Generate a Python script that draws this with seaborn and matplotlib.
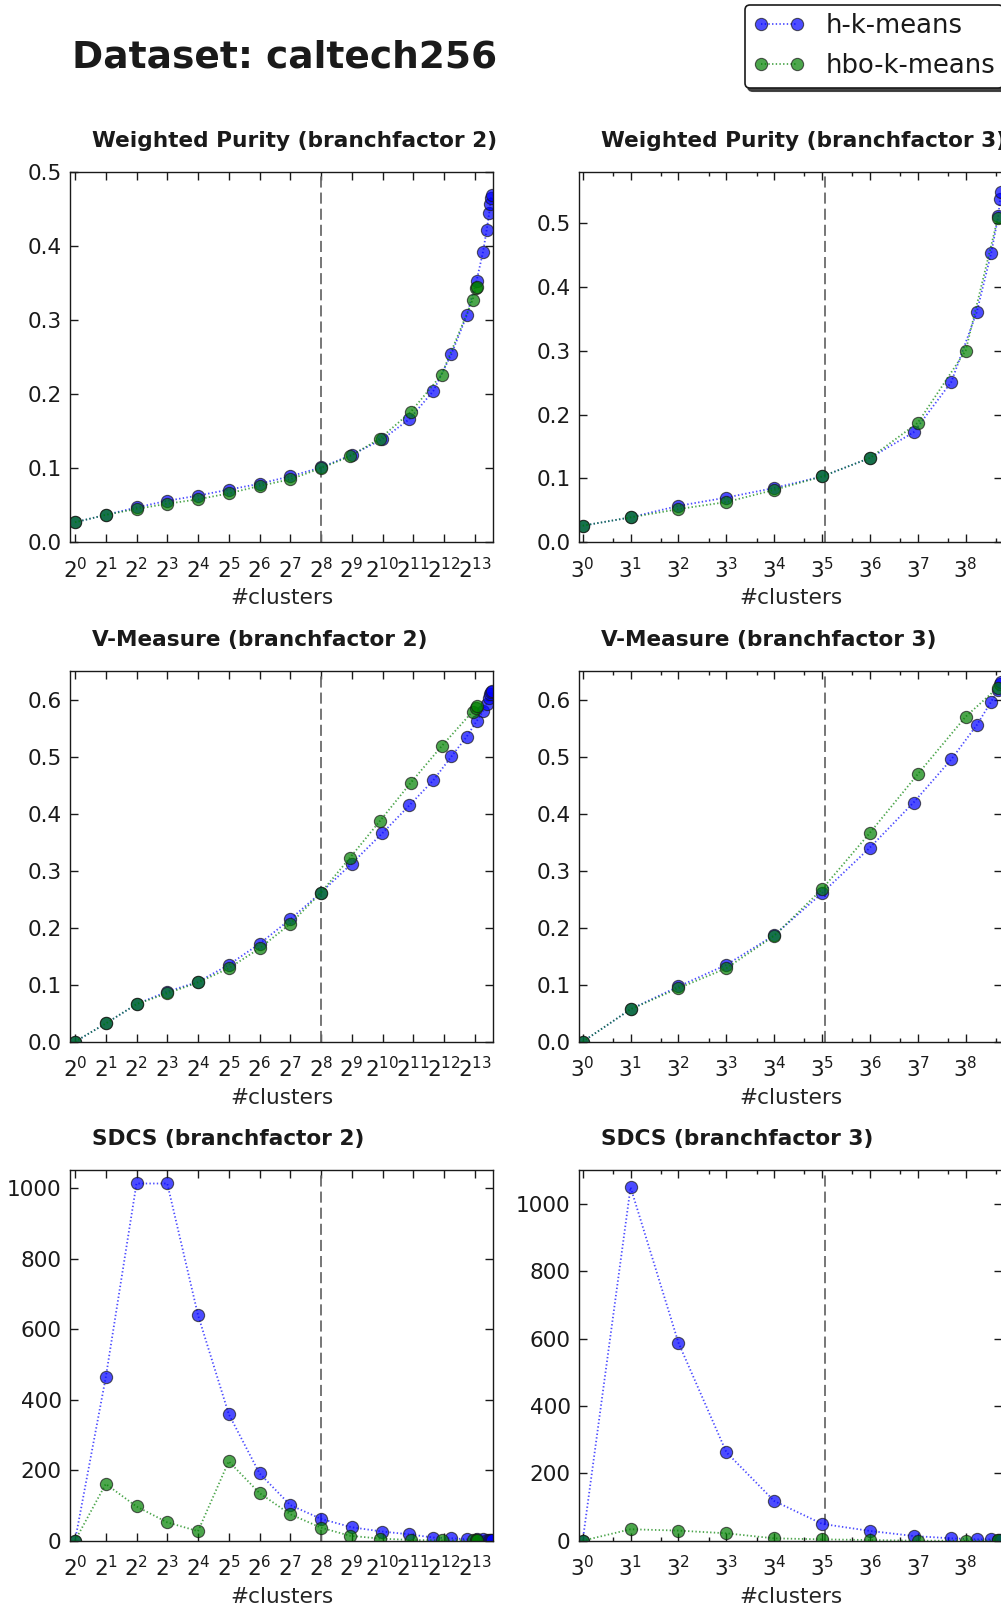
import matplotlib
matplotlib.use("Agg")
import matplotlib.pyplot as plt
from matplotlib.ticker import (LogLocator, NullLocator, MultipleLocator,
                               FormatStrFormatter)
import seaborn as sns

# ---------------------------------------------------------------- data
methods = ["h-k-means", "hbo-k-means"]
n_classes = 257

# number of clusters at each level, branch factor 2
bf2_hk_clusters = [1, 2, 4, 8, 16, 32, 64, 128, 256, 512, 1017, 1872, 3214,
                   4837, 6840, 8540, 9878, 10735, 11346, 11585, 11829, 11993]
bf2_hbo_clusters = [1, 2, 4, 8, 16, 32, 64, 128, 256, 491, 969, 1938, 3875,
                    7804, 8422, 8540]

# number of clusters at each level, branch factor 3
bf3_hk_clusters = [1, 3, 9, 27, 81, 243, 729, 1981, 4719, 8446, 11750, 13848,
                   14471, 14793]
bf3_hbo_clusters = [1, 3, 9, 27, 81, 243, 729, 2187, 6561, 13696]

# weighted purity
wp_bf2_hk = [0.027, 0.037, 0.047, 0.056, 0.063, 0.071, 0.079, 0.089, 0.101,
             0.118, 0.139, 0.166, 0.204, 0.254, 0.306, 0.353, 0.392, 0.422,
             0.444, 0.456, 0.465, 0.469]
wp_bf2_hbo = [0.027, 0.037, 0.045, 0.052, 0.058, 0.066, 0.076, 0.085, 0.100,
              0.116, 0.140, 0.176, 0.226, 0.327, 0.343, 0.345]
wp_bf3_hk = [0.026, 0.039, 0.057, 0.070, 0.085, 0.103, 0.132, 0.172, 0.251,
             0.360, 0.452, 0.510, 0.538, 0.549]
wp_bf3_hbo = [0.026, 0.039, 0.052, 0.063, 0.082, 0.103, 0.132, 0.187, 0.300,
              0.507]

# V-measure
vm_bf2_hk = [0.0, 0.032, 0.066, 0.088, 0.105, 0.135, 0.172, 0.215, 0.262,
             0.313, 0.366, 0.415, 0.459, 0.501, 0.536, 0.563, 0.581, 0.594,
             0.603, 0.610, 0.614, 0.616]
vm_bf2_hbo = [0.0, 0.032, 0.066, 0.085, 0.104, 0.129, 0.164, 0.207, 0.262,
              0.323, 0.388, 0.455, 0.519, 0.580, 0.587, 0.589]
vm_bf3_hk = [0.0, 0.057, 0.097, 0.135, 0.187, 0.261, 0.341, 0.420, 0.496,
             0.556, 0.597, 0.618, 0.629, 0.632]
vm_bf3_hbo = [0.0, 0.057, 0.094, 0.129, 0.186, 0.268, 0.367, 0.470, 0.571,
              0.622]

# SDCS
sdcs_bf2_hk = [0, 463, 1013, 1013, 640, 359, 191, 101, 62, 38, 26, 18, 9, 7,
               4, 4, 4, 3, 3, 2, 2, 2]
sdcs_bf2_hbo = [0, 161, 97, 52, 27, 225, 135, 75, 37, 14, 6, 2, 1, 1, 1, 1]
sdcs_bf3_hk = [0, 1050, 588, 263, 118, 50, 29, 14, 7, 4, 4, 2, 2, 2]
sdcs_bf3_hbo = [0, 34, 30, 22, 7, 4, 2, 0, 0, 1]

metric_names = ["Weighted Purity", "V-Measure", "SDCS"]
ylims = {("Weighted Purity", 2): 0.5, ("Weighted Purity", 3): 0.58,
         ("V-Measure", 2): 0.651, ("V-Measure", 3): 0.651,
         ("SDCS", 2): 1051, ("SDCS", 3): 1101}
xlims = {2: (0.8933, 12442), 3: (0.9186, 15200)}

series = {
    ("Weighted Purity", 2): (wp_bf2_hk, wp_bf2_hbo),
    ("Weighted Purity", 3): (wp_bf3_hk, wp_bf3_hbo),
    ("V-Measure", 2): (vm_bf2_hk, vm_bf2_hbo),
    ("V-Measure", 3): (vm_bf3_hk, vm_bf3_hbo),
    ("SDCS", 2): (sdcs_bf2_hk, sdcs_bf2_hbo),
    ("SDCS", 3): (sdcs_bf3_hk, sdcs_bf3_hbo),
}
clusters = {2: (bf2_hk_clusters, bf2_hbo_clusters),
            3: (bf3_hk_clusters, bf3_hbo_clusters)}
colors = {"h-k-means": "#0000ff", "hbo-k-means": "#008000"}

# ---------------------------------------------------------------- style
sns.set_theme(style="white")
plt.rcParams["font.family"] = ["DejaVu Sans"]
plt.rcParams.update({
    "axes.edgecolor": "k",
    "axes.linewidth": 1.0,
    "text.color": "k",
    "xtick.color": "k",
    "ytick.color": "k",
    "lines.scale_dashes": False,
})

W, H = 1001, 1609
fig = plt.figure(figsize=(W / 100, H / 100), dpi=100)

ax_w, ax_h = 423.3, 370.6
col_left = {2: 70.0, 3: 579.0}
row_bottom = [542.3, 1041.7, 1540.7]
FS = 15.6

for r, metric in enumerate(metric_names):
    for bf in (2, 3):
        rect = [col_left[bf] / W, 1 - row_bottom[r] / H, ax_w / W, ax_h / H]
        ax = fig.add_axes(rect)
        xs_hk, xs_hbo = clusters[bf]
        ys_hk, ys_hbo = series[(metric, bf)]
        for xs, ys, name in ((xs_hk, ys_hk, methods[0]),
                             (xs_hbo, ys_hbo, methods[1])):
            sns.lineplot(x=xs, y=ys, ax=ax, color=colors[name], label=name,
                         marker="o", linestyle=":", linewidth=1.3,
                         markersize=8.8, markeredgecolor="k",
                         markeredgewidth=0.8, alpha=0.7, estimator=None,
                         sort=False, errorbar=None, legend=False)
        ax.axvline(n_classes, color="0.42", linestyle="--", linewidth=1.3,
                   dashes=(8, 3.6), zorder=1)

        ax.set_xscale("log", base=bf)
        ax.xaxis.set_major_locator(LogLocator(base=bf, numticks=40))
        if bf == 3:
            ax.xaxis.set_minor_locator(LogLocator(base=bf, subs=[2.0],
                                                  numticks=40))
        else:
            ax.xaxis.set_minor_locator(NullLocator())
        ax.set_xlim(*xlims[bf])
        ax.set_ylim(0, ylims[(metric, bf)])
        if metric == "SDCS":
            ax.yaxis.set_major_locator(MultipleLocator(200))
            ax.yaxis.set_major_formatter(FormatStrFormatter("%d"))
        else:
            ax.yaxis.set_major_locator(MultipleLocator(0.1))
            ax.yaxis.set_major_formatter(FormatStrFormatter("%.1f"))

        ax.tick_params(axis="both", which="both", direction="in", top=True,
                       right=True, bottom=True, left=True, labelsize=FS)
        ax.tick_params(which="major", length=5.8, width=1.0)
        ax.tick_params(which="minor", length=2.9, width=1.0)
        ax.tick_params(axis="y", which="major", pad=6)
        ax.tick_params(axis="x", which="major", pad=10.3)
        for sp in ax.spines.values():
            sp.set_visible(True)
            sp.set_color("k")
            sp.set_linewidth(1.0)

        ax.set_xlabel("#clusters", fontsize=FS, labelpad=4.8)
        ax.set_ylabel("")
        ax.text(22 / ax_w, 1 + 24.7 / ax_h,
                f"{metric} (branchfactor {bf})", transform=ax.transAxes,
                ha="left", va="baseline", fontsize=FS, fontweight="bold")
        if r == 0 and bf == 2:
            handles, labels = ax.get_legend_handles_labels()

fig.text(72 / W, 1 - 68 / H, "Dataset: caltech256", fontsize=27,
         fontweight="bold", ha="left", va="baseline")

leg = fig.legend(handles, labels, loc="upper left",
                 bbox_to_anchor=(745 / W, 1 - 5 / H),
                 bbox_transform=fig.transFigure, borderaxespad=0,
                 fontsize=18.6, numpoints=2, fancybox=True,
                 borderpad=0.32, labelspacing=0.55,
                 shadow={"color": "0.2", "alpha": 0.9, "ox": 2, "oy": -2.5},
                 frameon=True, framealpha=1, edgecolor="k")
leg.get_frame().set_linewidth(1.2)

fig.savefig("out.png", dpi=100)
